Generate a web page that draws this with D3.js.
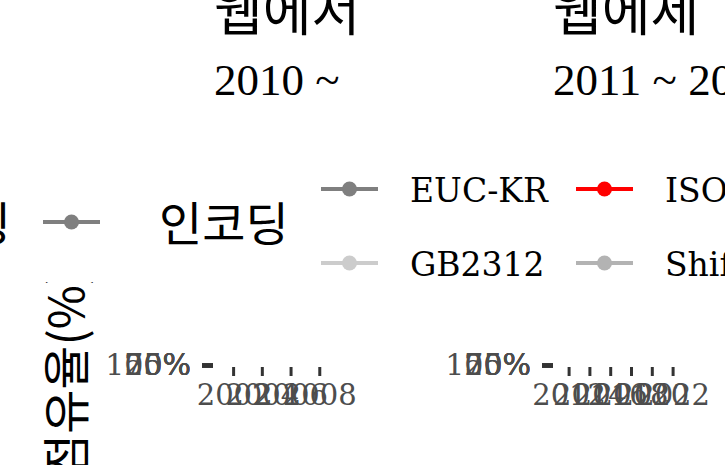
<!DOCTYPE html>
<html>
<head>
<meta charset="utf-8">
<script src="https://cdn.jsdelivr.net/npm/d3@7"></script>
<style>
  body { margin: 0; background: #fff; }
  svg { display: block; }
</style>
</head>
<body>
<div id="chart"></div>
<script>
// data
const leftYears = [2002, 2004, 2006, 2008]
const rightYears = [2012, 2014, 2016, 2018, 2020, 2022]
const yTickLabels = ['0%', '25%', '50%', '75%', '100%']
const yTickValues = [0, 0.25, 0.5, 0.75, 1]
const leftSeries = ['인코딩']
const leftColors = ['#7f7f7f']
const rightSeries = ['EUC-KR', 'ISO-8859-1', 'GB2312', 'Shift_JIS']
const rightColors = ['#7f7f7f', '#ff0000', '#cccccc', '#b3b3b3']

const width = 725
const height = 465
const serif = "'DejaVu Serif', 'Noto Sans CJK KR', serif"
const titleSerif = "'Liberation Serif', 'Noto Sans CJK KR', serif"
const kr = "'Noto Sans CJK KR', sans-serif"

const svg = d3.select('#chart').append('svg')
  .attr('width', width)
  .attr('height', height)

// nested svg = clipped box
const clipBox = (x, y, w, h) => svg.append('svg')
  .attr('x', x).attr('y', y)
  .attr('width', w).attr('height', h)
  .style('overflow', 'hidden')
  .append('g')
  .attr('transform', `translate(${-x},${-y})`)

// each sub plot: panel collapsed to one line at y = 365
const createPlot = (opts) => {
  const g = svg.append('g').attr('class', opts.className)

  // titles
  const gTitle = clipBox(0, 0, opts.clipRight, 120)
  gTitle.append('text')
    .text(opts.title1)
    .attr('x', opts.titleX).attr('y', 31)
    .attr('font-family', kr).attr('font-size', 53)
    .style('fill', '#000')
  gTitle.append('text')
    .text(opts.title2)
    .attr('x', opts.titleX).attr('y', 95)
    .attr('font-family', titleSerif).attr('font-size', 45)
    .style('fill', '#000')

  const x = d3.scaleLinear().domain(opts.xDomain).range(opts.xRange)
  const y = d3.scaleLinear().domain([0, 1]).range([365, 365])

  const yAxis = d3.axisLeft(y)
    .tickValues(yTickValues)
    .tickFormat((d, i) => yTickLabels[i])
    .tickSize(11)
    .tickPadding(11)
  const gY = g.append('g').attr('transform', `translate(${opts.xRange[0]},0)`).call(yAxis)
  gY.select('.domain').remove()
  gY.selectAll('.tick line').attr('stroke', '#333333').attr('stroke-width', 4)
  gY.selectAll('.tick text')
    .attr('font-family', serif).attr('font-size', 30)
    .style('fill', '#4d4d4d')

  const xAxis = d3.axisBottom(x)
    .tickValues(opts.years)
    .tickFormat(d3.format('d'))
    .tickSize(9)
    .tickPadding(8)
  const gX = g.append('g').attr('transform', 'translate(0,367)').call(xAxis)
  gX.select('.domain').remove()
  gX.selectAll('.tick line').attr('stroke', '#333333').attr('stroke-width', 3)
  gX.selectAll('.tick text')
    .attr('font-family', serif).attr('font-size', 29)
    .style('fill', '#4d4d4d')
  return g
}

const createLegend = (opts) => {
  const g = svg.append('g').attr('class', opts.className)
  const keys = g.selectAll('g.key')
    .data(opts.series)
    .enter()
    .append('g')
    .attr('class', 'key')
    .attr('transform', (d, i) => `translate(${opts.x + (i % opts.cols) * opts.colStep},${opts.y + Math.floor(i / opts.cols) * opts.rowStep})`)
  keys.append('line')
    .attr('x1', 0).attr('x2', 57)
    .attr('y1', 0).attr('y2', 0)
    .attr('stroke', (d, i) => opts.colors[i])
    .attr('stroke-width', 4)
  keys.append('circle')
    .attr('cx', 28.5).attr('cy', 0).attr('r', 7.5)
    .style('fill', (d, i) => opts.colors[i])
  keys.append('text')
    .text(d => d)
    .attr('x', opts.labelOffset)
    .attr('y', opts.labelDy)
    .attr('font-family', opts.font)
    .attr('font-size', opts.fontSize)
    .style('fill', '#000')
  return g
}

createPlot({
  className: 'leftPlot',
  clipRight: 362,
  title1: '웹에서',
  title2: '2010 ~',
  titleX: 214,
  xDomain: [2000.6, 2010],
  xRange: [213, 348],
  years: leftYears
})

createPlot({
  className: 'rightPlot',
  clipRight: width,
  title1: '웹에세',
  title2: '2011 ~ 2022',
  titleX: 553,
  xDomain: [2010.5, 2023],
  xRange: [553, 683],
  years: rightYears
})

// left legend title, pushed past the left edge
svg.append('text')
  .text('인코딩')
  .attr('x', 11).attr('y', 241)
  .attr('text-anchor', 'end')
  .attr('font-family', kr).attr('font-size', 47)
  .style('fill', '#000')

createLegend({
  className: 'leftLegend',
  series: leftSeries,
  colors: leftColors,
  x: 43, y: 222,
  cols: 1, colStep: 0, rowStep: 0,
  labelOffset: 116, labelDy: 19,
  font: kr, fontSize: 47
})

createLegend({
  className: 'rightLegend',
  series: rightSeries,
  colors: rightColors,
  x: 321, y: 189,
  cols: 2, colStep: 255, rowStep: 74,
  labelOffset: 89, labelDy: 13,
  font: serif, fontSize: 33
})

// y axis title, top cut off
clipBox(0, 282, 120, 183)
  .append('text')
  .text('점유율(%)')
  .attr('transform', 'translate(84,478) rotate(-90)')
  .attr('font-family', kr).attr('font-size', 48)
  .style('fill', '#000')
</script>
</body>
</html>
